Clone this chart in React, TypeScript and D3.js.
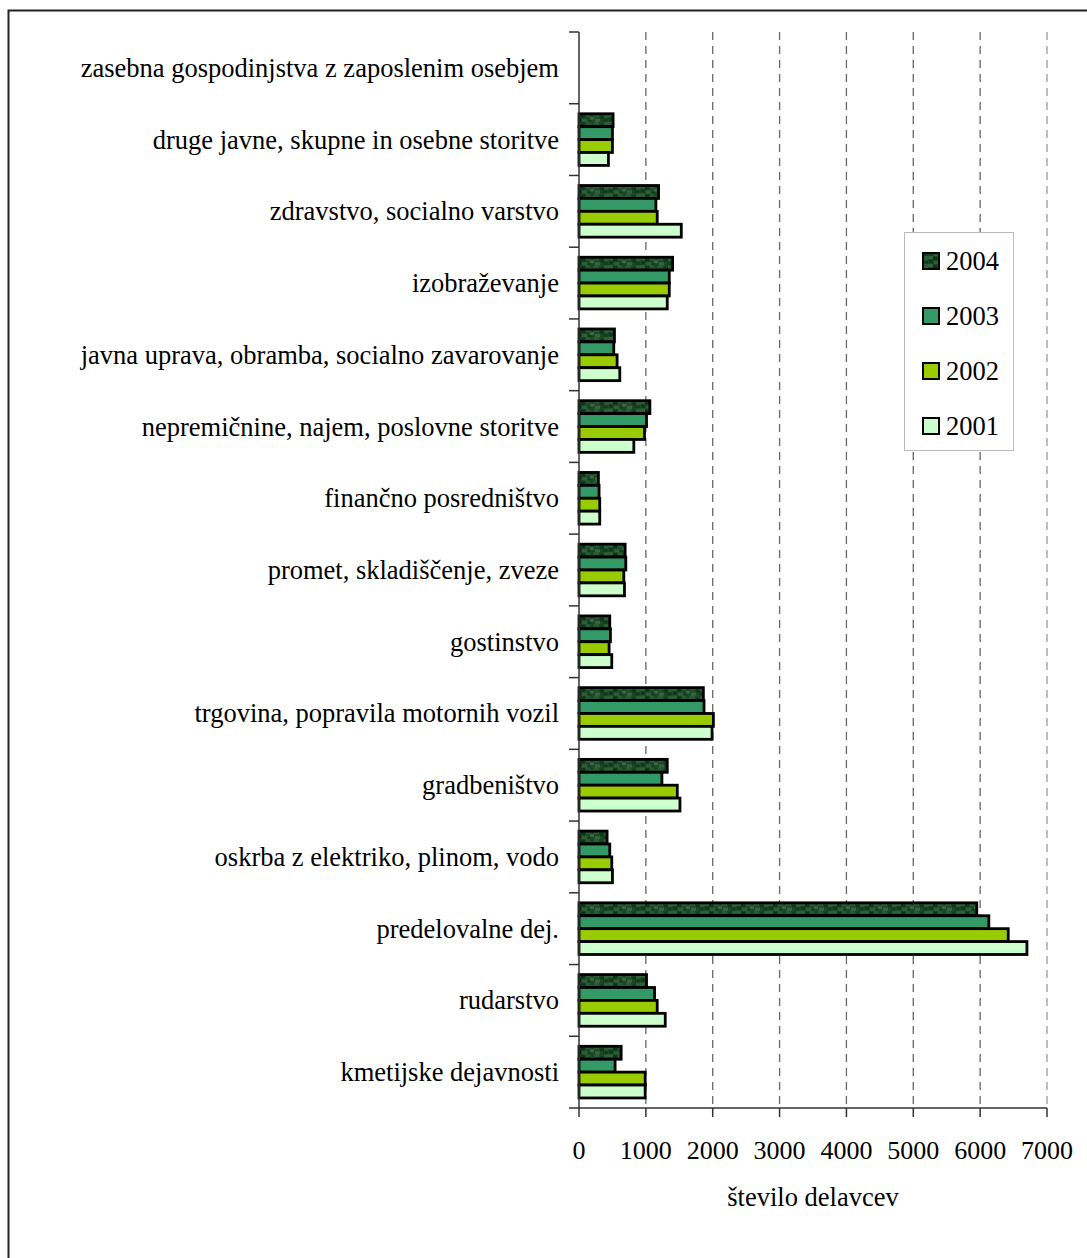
import React from "react";
import * as d3 from "d3";

const categories = [
  "zasebna gospodinjstva z zaposlenim osebjem",
  "druge javne, skupne in osebne storitve",
  "zdravstvo, socialno varstvo",
  "izobraževanje",
  "javna uprava, obramba, socialno zavarovanje",
  "nepremičnine, najem, poslovne storitve",
  "finančno posredništvo",
  "promet, skladiščenje, zveze",
  "gostinstvo",
  "trgovina, popravila motornih vozil",
  "gradbeništvo",
  "oskrba z elektriko, plinom, vodo",
  "predelovalne dej.",
  "rudarstvo",
  "kmetijske dejavnosti",
];
const years = ["2004", "2003", "2002", "2001"];
const values2004 = [0, 510, 1190, 1400, 530, 1060, 290, 690, 460, 1860, 1320, 420, 5950, 1010, 630];
const values2003 = [0, 500, 1150, 1350, 520, 1010, 300, 700, 470, 1870, 1240, 460, 6130, 1130, 540];
const values2002 = [0, 500, 1170, 1350, 570, 980, 310, 670, 450, 2010, 1470, 490, 6420, 1170, 990];
const values2001 = [0, 440, 1530, 1320, 610, 820, 310, 680, 490, 1990, 1510, 500, 6700, 1290, 990];
const xTicks = [0, 1000, 2000, 3000, 4000, 5000, 6000, 7000];
const axisTitle = "število delavcev";

const seriesValues: Record<string, number[]> = {
  "2004": values2004,
  "2003": values2003,
  "2002": values2002,
  "2001": values2001,
};
const fills: Record<string, string> = {
  "2004": "url(#tex2004)",
  "2003": "#339966",
  "2002": "#99cc00",
  "2001": "#ccffcc",
};

const FONT = "'Liberation Serif', 'Times New Roman', serif";

export default function App() {
  const W = 1087, H = 1258;
  const left = 579, right = 1047, top = 32, bottom = 1108;
  const x = d3.scaleLinear().domain([0, 7000]).range([left, right]);
  const y0 = d3.scaleBand<string>().domain(categories).range([top, bottom]).padding(0);
  const step = y0.bandwidth();
  const groupH = step * 0.72;
  const off = (step - groupH) / 2;
  const y1 = d3.scaleBand<string>().domain(years).range([0, groupH]).padding(0);

  // texture cells (style only)
  const texCells = [
    [0, 0, 5, 3, "#2f6139"], [5, 1, 4, 3, "#0d3416"], [10, 0, 4, 3, "#295a33"],
    [14, 3, 4, 3, "#356843"], [1, 4, 4, 3, "#0f3719"], [6, 5, 5, 3, "#2d5f38"],
    [12, 6, 3, 2, "#11391b"], [18, 0, 5, 3, "#2a5b35"], [19, 5, 5, 3, "#326540"],
    [24, 2, 4, 3, "#103819"], [28, 0, 4, 4, "#2c5d37"], [27, 5, 5, 3, "#133c1d"],
  ] as const;

  const legendX = 904, legendY = 232, legendW = 109, legendH = 218;

  return (
    <svg width={W} height={H} style={{ position: "absolute", left: 0, top: 0, background: "#fff" }}>
      <defs>
        <pattern id="tex2004" patternUnits="userSpaceOnUse" width={32} height={8}>
          <rect width={32} height={8} fill="#1b4726" />
          {texCells.map((c, i) => (
            <rect key={i} x={c[0]} y={c[1]} width={c[2]} height={c[3]} fill={c[4]} />
          ))}
        </pattern>
      </defs>
      <rect x={0} y={0} width={W} height={H} fill="#fff" />
      <rect x={8.5} y={10.5} width={1300} height={1400} fill="none" stroke="#222" strokeWidth={2} />

      {/* gridlines */}
      {xTicks.slice(1).map((t) => (
        <line key={"g" + t} x1={x(t)} x2={x(t)} y1={top} y2={bottom}
          stroke={t === 7000 ? "#999" : "#666"} strokeWidth={1.3} strokeDasharray="8,6" />
      ))}

      {/* bars */}
      {categories.map((c, ci) => (
        <g key={c} transform={`translate(0,${(y0(c) as number) + off})`}>
          {years.map((yr) => {
            const v = seriesValues[yr][ci];
            if (v <= 0) return null;
            return (
              <rect key={yr} x={x(0)} y={y1(yr)} width={x(v) - x(0)} height={y1.bandwidth()}
                fill={fills[yr]} stroke="#000" strokeWidth={2.8} />
            );
          })}
        </g>
      ))}

      {/* y axis */}
      <line x1={left} x2={left} y1={top} y2={bottom} stroke="#333" strokeWidth={1.5} />
      {d3.range(categories.length + 1).map((i) => (
        <line key={"yt" + i} x1={left - 10} x2={left} y1={top + i * step} y2={top + i * step}
          stroke="#333" strokeWidth={1.5} />
      ))}
      {categories.map((c) => (
        <text key={"l" + c} x={559} y={(y0(c) as number) + step / 2 + 9} textAnchor="end"
          fontFamily={FONT} fontSize={26.5} fill="#000">{c}</text>
      ))}

      {/* x axis */}
      <line x1={left} x2={right} y1={bottom} y2={bottom} stroke="#333" strokeWidth={1.5} />
      {xTicks.map((t) => (
        <g key={"xt" + t}>
          <line x1={x(t)} x2={x(t)} y1={bottom} y2={bottom + 9} stroke="#333" strokeWidth={1.5} />
          <text x={x(t)} y={1159} textAnchor="middle" fontFamily={FONT} fontSize={26} fill="#000">{t}</text>
        </g>
      ))}
      <text x={(left + right) / 2} y={1206} textAnchor="middle" fontFamily={FONT} fontSize={26.5} fill="#000">{axisTitle}</text>

      {/* legend */}
      <rect x={legendX + 0.5} y={legendY + 0.5} width={legendW} height={legendH} fill="#fff" stroke="#bbb" strokeWidth={1} />
      {years.map((yr, i) => {
        const cy = 261 + i * 55;
        return (
          <g key={"lg" + yr}>
            <rect x={923} y={cy - 8} width={16} height={16} fill={fills[yr]} stroke="#000" strokeWidth={2} />
            <text x={946} y={cy + 9} fontFamily={FONT} fontSize={26.5} fill="#000">{yr}</text>
          </g>
        );
      })}
    </svg>
  );
}
